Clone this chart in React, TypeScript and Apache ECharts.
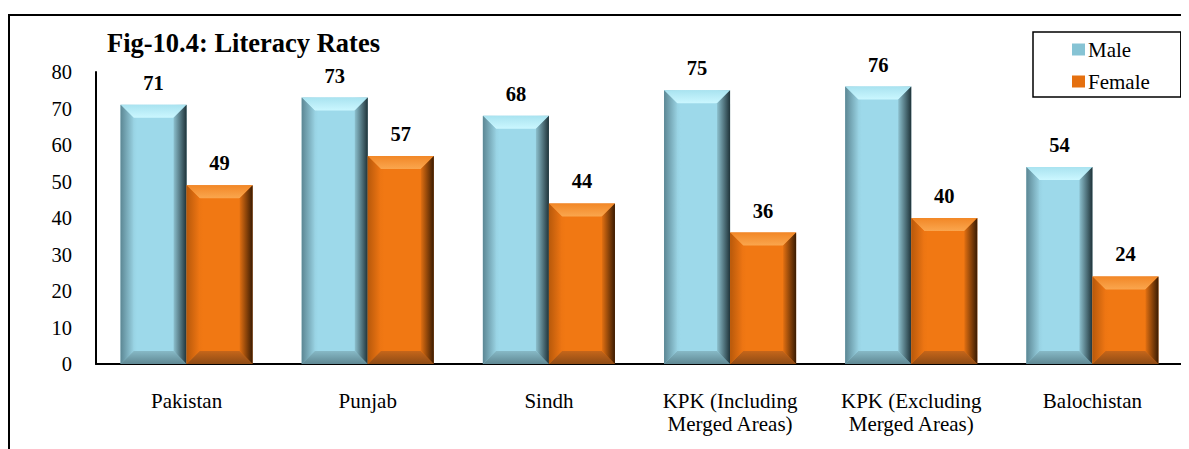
import React, { useEffect, useRef } from "react";
import * as echarts from "echarts";

const categories = [
  "Pakistan",
  "Punjab",
  "Sindh",
  "KPK (Including\nMerged Areas)",
  "KPK (Excluding\nMerged Areas)",
  "Balochistan",
];
const maleValues = [71, 73, 68, 75, 76, 54];
const femaleValues = [49, 57, 44, 36, 40, 24];
const yTicks = { min: 0, max: 80, interval: 10 };
const titleText = "Fig-10.4: Literacy Rates";
const seriesNames = ["Male", "Female"];

const FONT = "Liberation Serif";

const palettes = [
  {
    face: "#9DD9EA",
    faceL: "#86BCCB",
    faceR: "#7AAAB6",
    top1: "#A9E3F0",
    top2: "#CBF7FF",
    left1: "#5C8794",
    left2: "#97D0E0",
    right1: "#8CC0CE",
    right2: "#1F3339",
    bot1: "#87B9C6",
    bot2: "#5F8893",
    legend: "#86C3D4",
  },
  {
    face: "#F17813",
    faceL: "#E06E10",
    faceR: "#D86A10",
    top1: "#F28726",
    top2: "#FAA64E",
    left1: "#B8590B",
    left2: "#EF7613",
    right1: "#E27012",
    right2: "#3A1B02",
    bot1: "#C6661A",
    bot2: "#8E4B15",
    legend: "#E5700F",
  },
];

function makeRender(si: number) {
  const p = palettes[si];
  return (params: any, api: any) => {
    const ci = api.value(0);
    const v = api.value(1);
    const top = api.coord([ci, v]);
    const base = api.coord([ci, 0]);
    const bw = api.size([1, 0])[0];
    const barW = bw * 0.3645;
    const x0 = si === 0 ? top[0] - barW : top[0];
    const x1 = x0 + barW;
    const y0 = top[1];
    const y1 = base[1];
    const d = Math.min(13, barW / 4, (y1 - y0) / 2);
    const lg = (c1: string, c2: string, horiz: boolean) =>
      new echarts.graphic.LinearGradient(0, 0, horiz ? 1 : 0, horiz ? 0 : 1, [
        { offset: 0, color: c1 },
        { offset: 1, color: c2 },
      ]);
    return {
      type: "group",
      children: [
        {
          type: "rect",
          shape: { x: x0, y: y0, width: barW, height: y1 - y0 },
          style: {
            fill: new echarts.graphic.LinearGradient(0, 0, 1, 0, [
              { offset: 0, color: p.faceL },
              { offset: 0.25, color: p.face },
              { offset: 0.8, color: p.face },
              { offset: 1, color: p.faceR },
            ]),
          },
        },
        {
          type: "polygon",
          shape: { points: [[x0, y0], [x1, y0], [x1 - d, y0 + d], [x0 + d, y0 + d]] },
          style: { fill: lg(p.top1, p.top2, false) },
        },
        {
          type: "polygon",
          shape: { points: [[x0, y1], [x1, y1], [x1 - d, y1 - d], [x0 + d, y1 - d]] },
          style: { fill: lg(p.bot1, p.bot2, false) },
        },
        {
          type: "polygon",
          shape: { points: [[x0, y0], [x0 + d, y0 + d], [x0 + d, y1 - d], [x0, y1]] },
          style: { fill: lg(p.left1, p.left2, true) },
        },
        {
          type: "polygon",
          shape: { points: [[x1, y0], [x1 - d, y0 + d], [x1 - d, y1 - d], [x1, y1]] },
          style: { fill: lg(p.right1, p.right2, true) },
        },
        {
          type: "text",
          style: {
            text: String(v),
            x: (x0 + x1) / 2,
            y: y0 - 22,
            align: "center",
            verticalAlign: "middle",
            fontFamily: FONT,
            fontWeight: "bold",
            fontSize: 20.5,
            fill: "#000",
          },
        },
      ],
    };
  };
}

export default function App() {
  const ref = useRef<HTMLDivElement>(null);
  useEffect(() => {
    if (!ref.current) return;
    const chart = echarts.init(ref.current, undefined, { renderer: "svg" });
    const series = [maleValues, femaleValues].map((vals, si) => ({
      type: "custom",
      name: seriesNames[si],
      renderItem: makeRender(si),
      encode: { x: 0, y: 1 },
      itemStyle: { color: palettes[si].legend },
      data: vals.map((v, i) => [i, v]),
    }));
    chart.setOption({
      animation: false,
      backgroundColor: "#fff",
      textStyle: { fontFamily: FONT },
      title: {
        text: titleText,
        left: 99,
        top: 21,
        padding: 0,
        textStyle: { fontFamily: FONT, fontWeight: "bold", fontSize: 26.5, color: "#000" },
      },
      legend: {
        orient: "vertical",
        left: 1025,
        top: 24,
        padding: [7, 31, 5, 39],
        borderColor: "#000",
        borderWidth: 1.5,
        itemWidth: 13,
        itemHeight: 12,
        itemGap: 11,
        icon: "rect",
        align: "left",
        textStyle: { fontFamily: FONT, fontSize: 21, color: "#000", lineHeight: 21, padding: [0, 0, 0, -2] },
        data: seriesNames,
      },
      grid: { left: 88, right: 6, top: 64, bottom: 85 },
      xAxis: {
        type: "category",
        data: categories,
        axisLine: { show: true, lineStyle: { color: "#000", width: 2 } },
        axisTick: { show: false },
        axisLabel: {
          fontFamily: FONT,
          fontSize: 21,
          color: "#000",
          lineHeight: 23,
          margin: 25,
          interval: 0,
        },
      },
      yAxis: {
        type: "value",
        min: yTicks.min,
        max: yTicks.max,
        interval: yTicks.interval,
        axisLine: { show: true, lineStyle: { color: "#000", width: 2 } },
        axisTick: { show: false },
        splitLine: { show: false },
        axisLabel: { fontFamily: FONT, fontSize: 20.5, color: "#000", margin: 24 },
      },
      graphic: [
        { type: "line", shape: { x1: 0, y1: 7, x2: 1181, y2: 7 }, style: { stroke: "#000", lineWidth: 2 } },
        { type: "line", shape: { x1: 1, y1: 7, x2: 1, y2: 441 }, style: { stroke: "#000", lineWidth: 2 } },
      ],
      series,
    });
    return () => chart.dispose();
  }, []);
  return <div ref={ref} style={{ width: 1181, height: 441 }} />;
}
